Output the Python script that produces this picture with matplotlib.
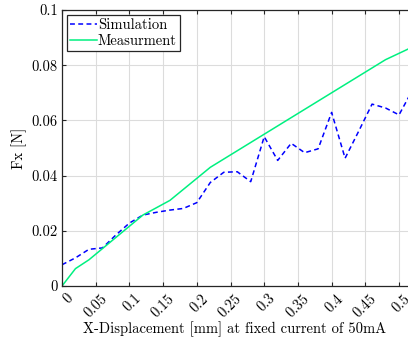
import matplotlib
matplotlib.use("Agg")
import matplotlib.pyplot as plt
import matplotlib.transforms as mtransforms
from matplotlib.ticker import FuncFormatter

plt.rcParams['font.family'] = 'serif'
plt.rcParams['font.serif'] = ['cmr10', 'DejaVu Serif']
plt.rcParams['mathtext.fontset'] = 'cm'
plt.rcParams['axes.formatter.use_mathtext'] = True

sim_x = [0, 0.02, 0.04, 0.06, 0.08, 0.10, 0.12, 0.14, 0.16, 0.18, 0.20, 0.22, 0.24,
         0.26, 0.28, 0.30, 0.32, 0.34, 0.36, 0.38, 0.40, 0.42, 0.44, 0.46, 0.48, 0.50, 0.52]
sim_y = [0.0077, 0.0102, 0.0133, 0.0138, 0.0185, 0.0228, 0.0257, 0.0267, 0.0275, 0.0281,
         0.0302, 0.0375, 0.0412, 0.0414, 0.0378, 0.0541, 0.0455, 0.0517, 0.0483, 0.0497,
         0.0629, 0.0463, 0.0560, 0.0659, 0.0645, 0.0620, 0.0710]

meas_x = [0, 0.02, 0.04, 0.12, 0.16, 0.22, 0.48, 0.52]
meas_y = [0, 0.0063, 0.0095, 0.0257, 0.0310, 0.0430, 0.0820, 0.0866]

x_ticks = [0, 0.05, 0.1, 0.15, 0.2, 0.25, 0.3, 0.35, 0.4, 0.45, 0.5]
y_ticks = [0, 0.02, 0.04, 0.06, 0.08, 0.1]

FS = 10.5

fig = plt.figure(figsize=(4.08, 3.39), dpi=100)
ax = fig.add_axes([62/408, 53/339, (412.5-62)/408, 276/339])

ax.plot(sim_x, sim_y, linestyle='--', color='#0000ff', lw=1.1, label='Simulation',
        dashes=(3.2, 2.2))
ax.plot(meas_x, meas_y, linestyle='-', color='#00f080', lw=1.1, label='Measurment')

ax.set_xlim(0, 0.52)
ax.set_ylim(0, 0.1)
ax.set_xticks(x_ticks)
ax.set_yticks(y_ticks)
fmt = FuncFormatter(lambda v, p: '%g' % round(v, 4))
ax.xaxis.set_major_formatter(fmt)
ax.yaxis.set_major_formatter(fmt)
ax.grid(True, color='#dcdcdc', lw=0.8)
ax.set_axisbelow(True)
ax.tick_params(direction='in', top=True, right=True, labelsize=FS, length=3, width=0.8,
               color='#262626')
ax.tick_params(axis='y', pad=3)
ax.tick_params(axis='x', pad=2)
offset = mtransforms.ScaledTranslation(0.042, -0.028, fig.dpi_scale_trans)
for lab in ax.get_xticklabels():
    lab.set_rotation(45)
    lab.set_ha('right')
    lab.set_va('top')
    lab.set_rotation_mode('anchor')
    lab.set_transform(lab.get_transform() + offset)
for s in ax.spines.values():
    s.set_color('#262626')
    s.set_linewidth(0.9)

ax.set_xlabel('X-Displacement [mm] at fixed current of 50mA', fontsize=FS)
ax.xaxis.set_label_coords(0.492, -(321 - 286) / 276)
ax.set_ylabel('Fx [N]', fontsize=FS, labelpad=3)

leg = ax.legend(loc='upper left', fontsize=FS, handlelength=1.85, handletextpad=0.05,
                borderpad=0.2, labelspacing=0.15, fancybox=False, framealpha=1,
                borderaxespad=0.35)
leg.get_frame().set_edgecolor('#262626')
leg.get_frame().set_linewidth(0.9)

fig.savefig('out.png', dpi=100)
